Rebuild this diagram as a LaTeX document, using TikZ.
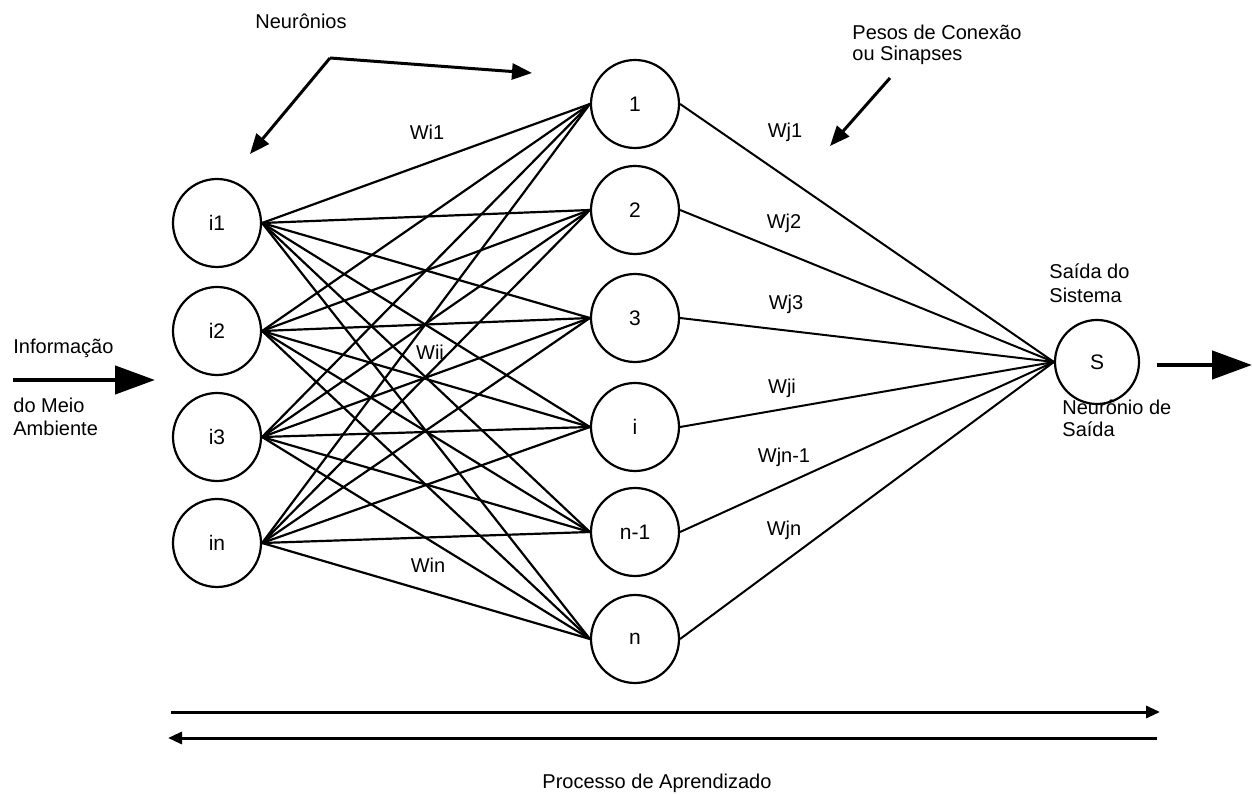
\documentclass[tikz,border=0pt]{standalone}
\usepackage{fontspec}
\setmainfont{Liberation Sans}
\usetikzlibrary{arrows.meta}
\begin{document}
\begin{tikzpicture}[x=0.5pt,y=-0.5pt,
 neuron/.style={draw,line width=1.1pt,circle,minimum size=44pt,inner sep=0pt,font=\fontsize{10.5}{12}\selectfont},
 conn/.style={line width=1.1pt},
 outconn/.style={line width=1pt},
 lbl/.style={font=\fontsize{10}{12}\selectfont,inner sep=0pt},
 bigarrow/.style={line width=2.2pt,-{Triangle[length=20pt,width=14pt]}},
 ptr/.style={line width=1.5pt,-{Triangle[length=10pt,width=8pt]}},
 flow/.style={line width=1.5pt,-{Triangle[length=7pt,width=6pt]}}]
\useasboundingbox (0,0) rectangle (1252,795);

% input layer
\node[neuron] (i1) at (217,223) {i1};
\node[neuron] (i2) at (217,331) {i2};
\node[neuron] (i3) at (217,437) {i3};
\node[neuron] (in) at (217,543) {in};

% hidden layer
\node[neuron] (h1) at (635,104) {1};
\node[neuron] (h2) at (635,210) {2};
\node[neuron] (h3) at (635,318) {3};
\node[neuron] (hi) at (635,427) {i};
\node[neuron] (hn1) at (635,532) {n-1};
\node[neuron] (hn) at (635,639) {n};

% output
\node[neuron,minimum size=42pt] (S) at (1097,362) {S};

% connections
\foreach \a in {i1,i2,i3,in}
  \foreach \b in {h1,h2,h3,hi,hn1,hn}
    \draw[conn] (\a.east) -- (\b.west);
\foreach \b in {h1,h2,h3,hi,hn1,hn}
  \draw[outconn] (\b.east) -- (S.west);

% weight labels
\node[lbl] (wi1) at (427,132) {Wi1};
\node[lbl] (wii) at (430,352) {Wii};
\node[lbl] (win) at (428,565) {Win};
\node[lbl] (wj1) at (785,132) {Wj1};
\node[lbl] (wj2) at (784,223) {Wj2};
\node[lbl] (wj3) at (786,304) {Wj3};
\node[lbl] (wji) at (782,388) {Wji};
\node[lbl] (wjn1) at (784,457) {Wjn-1};
\node[lbl] (wjn) at (784,530) {Wjn};

% input information
\node[lbl,anchor=west] (info1) at (13,348) {Informação};
\node[lbl,anchor=west] (info2) at (13,405) {do Meio};
\node[lbl,anchor=west] (info3) at (13,428) {Ambiente};
\coordinate (infoA) at (13,380);
\coordinate (infoB) at (155,380);
\draw[bigarrow] (infoA) -- (infoB);

% output arrow
\coordinate (outA) at (1157,365);
\coordinate (outB) at (1252,365);
\draw[bigarrow] (outA) -- (outB);
\node[lbl,anchor=west] (sd1) at (1049,271) {Saída do};
\node[lbl,anchor=west] (sd2) at (1049,295) {Sistema};
\node[lbl,anchor=west] (ns1) at (1062,407) {Neurônio de};
\node[lbl,anchor=west] (ns2) at (1062,429) {Saída};

% Neuronios pointer
\node[lbl] (neur) at (301,21) {Neurônios};
\coordinate (nv) at (330,58);
\coordinate (nl) at (250,154);
\coordinate (nr) at (532,73);
\draw[ptr] (nv) -- (nl);
\draw[ptr] (nv) -- (nr);

% Pesos pointer
\node[lbl,anchor=west] (pes1) at (852,32) {Pesos de Conexão};
\node[lbl,anchor=west] (pes2) at (852,55) {ou Sinapses};
\coordinate (pa) at (890,78);
\coordinate (pb) at (830,146);
\draw[ptr] (pa) -- (pb);

% learning process
\coordinate (fA) at (171,712);
\coordinate (fB) at (1160,712);
\coordinate (bA) at (1157,738);
\coordinate (bB) at (168,738);
\draw[flow] (fA) -- (fB);
\draw[flow] (bA) -- (bB);
\node[lbl] (proc) at (657,783) {Processo de Aprendizado};
\end{tikzpicture}
\end{document}
